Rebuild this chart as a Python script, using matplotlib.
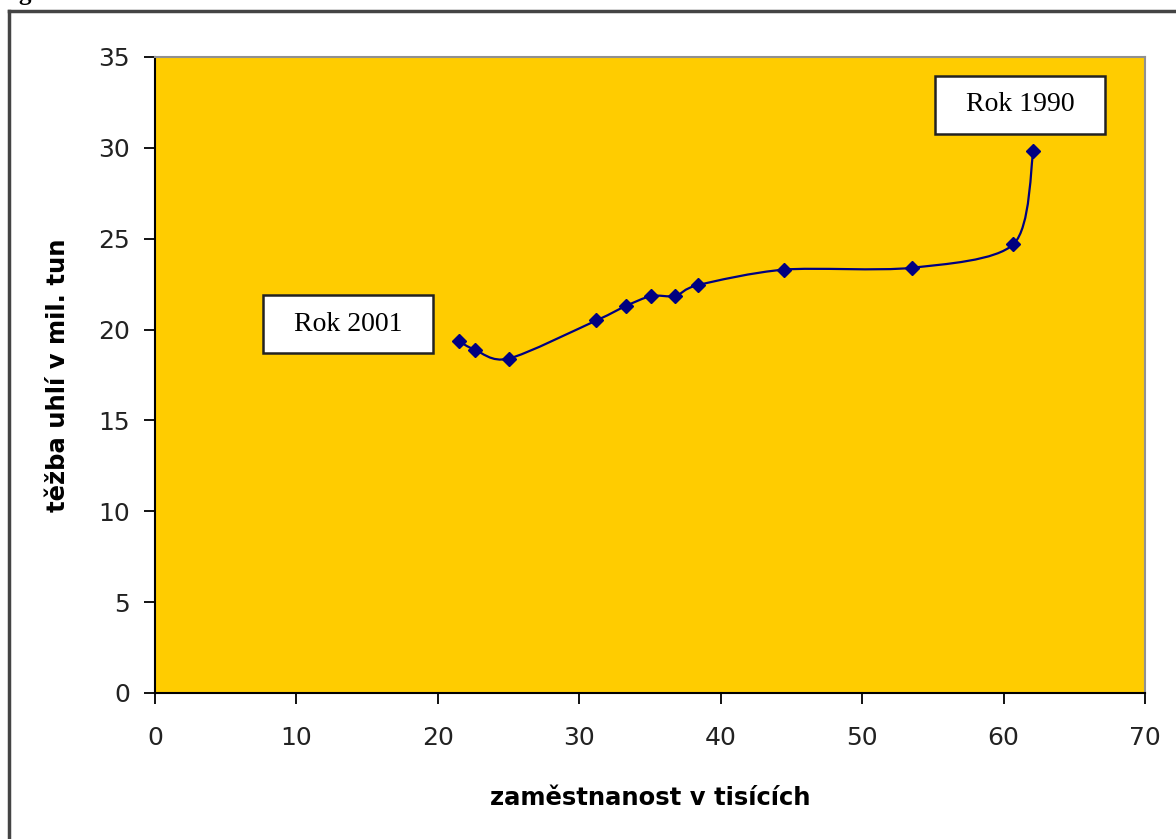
import matplotlib
matplotlib.use('Agg')
import matplotlib.pyplot as plt
from matplotlib.path import Path
from matplotlib.patches import PathPatch, Rectangle
from matplotlib.lines import Line2D

# employment (thousands) vs coal mining (mil. t), 2001 -> 1990
zamestnanost = [21.5, 22.6, 25.0, 31.2, 33.3, 35.1, 36.8, 38.4, 44.5, 53.5, 60.7, 62.1]
tezba = [19.35, 18.9, 18.4, 20.5, 21.3, 21.85, 21.85, 22.45, 23.3, 23.4, 24.7, 29.8]

xticks = [0, 10, 20, 30, 40, 50, 60, 70]
yticks = [0, 5, 10, 15, 20, 25, 30, 35]

navy = '#000080'
orange = '#FFCC00'

fig = plt.figure(figsize=(11.76, 8.39), dpi=100)
ax = fig.add_axes([155/1176, 1 - 693/839, 990/1176, 636/839])
ax.set_facecolor(orange)

# smoothed line like Excel (bezier between the points)
n = len(zamestnanost)
pts = list(zip(zamestnanost, tezba))
verts = [pts[0]]
codes = [Path.MOVETO]
for i in range(n - 1):
    p0 = pts[i - 1] if i > 0 else pts[i]
    p1 = pts[i]
    p2 = pts[i + 1]
    p3 = pts[i + 2] if i + 2 < n else pts[i + 1]
    c1 = (p1[0] + (p2[0] - p0[0]) / 7, p1[1] + (p2[1] - p0[1]) / 7)
    c2 = (p2[0] - (p3[0] - p1[0]) / 7, p2[1] - (p3[1] - p1[1]) / 7)
    verts += [c1, c2, p2]
    codes += [Path.CURVE4] * 3
ax.add_patch(PathPatch(Path(verts, codes), facecolor='none', edgecolor=navy, lw=1.6, zorder=3))
ax.plot(zamestnanost, tezba, ls='none', marker='D', ms=7, color=navy, zorder=4)

ax.set_xlim(0, 70)
ax.set_ylim(0, 35)
ax.set_xticks(xticks)
ax.set_yticks(yticks)
ax.tick_params(axis='both', direction='out', length=8, width=1.3, labelsize=18,
               colors='black')
ax.tick_params(axis='y', pad=10)
ax.tick_params(axis='x', pad=16)
for lab in ax.get_xticklabels() + ax.get_yticklabels():
    lab.set_color('#222222')

for s in ['left', 'bottom']:
    ax.spines[s].set_linewidth(1.5)
    ax.spines[s].set_color('black')
for s in ['top', 'right']:
    ax.spines[s].set_linewidth(1.5)
    ax.spines[s].set_color('#909090')

ax.set_xlabel('zaměstnanost v tisících', fontsize=17.5, fontweight='bold', labelpad=26)
ax.set_ylabel('těžba uhlí v mil. tun', fontsize=17.5, fontweight='bold', labelpad=20)

# label boxes
for cx, cy, txt in [(61.17, 32.36, 'Rok 1990'), (13.65, 20.3, 'Rok 2001')]:
    ax.add_patch(Rectangle((cx - 6.0, cy - 1.6), 12.0, 3.2, facecolor='white',
                           edgecolor='#222222', lw=1.8, zorder=5))
    ax.text(cx, cy, txt, ha='center', va='center', fontsize=20,
            family='Liberation Serif', zorder=6)

# outer frame (only top and left visible)
fig.add_artist(Line2D([9/1176, 1], [1 - 11/839, 1 - 11/839], color='#444444', lw=2.5))
fig.add_artist(Line2D([9/1176, 9/1176], [0, 1 - 11/839], color='#444444', lw=2.5))
fig.text(18/1176, 1.0, 'g', fontsize=18, fontweight='bold', family='Liberation Serif',
         va='baseline')

fig.savefig('out.png', dpi=100, facecolor='white')
